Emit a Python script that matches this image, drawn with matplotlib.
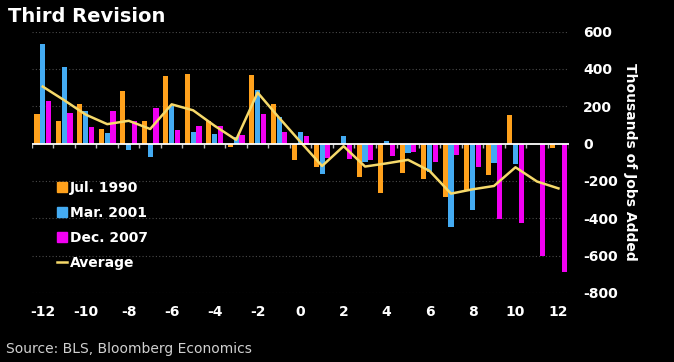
import numpy as np
import matplotlib
matplotlib.use("Agg")
import matplotlib.pyplot as plt
from matplotlib.patches import Patch
from matplotlib.lines import Line2D

plt.rcParams['axes.unicode_minus'] = False

# Months relative to the recession start
months = np.arange(-12, 13)
jul1990 = [160, 121, 210, 77, 283, 121, 360, 372, 121, -21, 368, 212, -86,
           -125, 0, -180, -267, -158, -191, -287, -248, -166, 154, 0, -23]
mar2001 = [532, 410, 172, 58, -37, -72, 200, 63, 52, 35, 289, 140, 61,
           -162, 40, -100, 16, -50, -150, -449, -358, -103, -109, 0, -3]
dec2007 = [230, 163, 89, 174, 121, 188, 70, 93, 93, 47, 160, 63, 41,
           -75, -82, -87, -64, -43, -98, -62, -128, -406, -426, -601, -685]
average = [305, 232, 155, 104, 122, 78, 210, 178, 95, 20, 273, 138, 8,
           -120, -14, -123, -106, -87, -146, -268, -245, -227, -127, -203, -240]

c_jul = '#FFA11C'
c_mar = '#44ABF2'
c_dec = '#F200F2'
c_avg = '#F6D96A'

fig = plt.figure(figsize=(6.74, 3.62), dpi=100, facecolor='black')
ax = fig.add_axes([32 / 674, 1 - 293 / 362, 537.2 / 674, 261.5 / 362])
ax.set_facecolor('black')

w = 0.24
off = 0.27
ax.bar(months - off, jul1990, width=w, color=c_jul, zorder=3)
ax.bar(months, mar2001, width=w, color=c_mar, zorder=3)
ax.bar(months + off, dec2007, width=w, color=c_dec, zorder=3)
ax.plot(months, average, color=c_avg, lw=1.8, zorder=4)

ax.set_xlim(-12.5, 12.5)
ax.set_ylim(-800, 600)

# grid and zero line
for v in range(-800, 601, 200):
    if v != 0:
        ax.axhline(v, color='#4a4a4a', lw=0.8, ls=(0, (1, 2)), zorder=1)
ax.axhline(0, color='white', lw=1.3, zorder=5)
ax.vlines(np.arange(-12.5, 13, 1), -24, 0, color='#bbbbbb', lw=1, zorder=2)

for s in ax.spines.values():
    s.set_visible(False)

ax.set_xticks(range(-12, 13, 2))
ax.tick_params(axis='x', length=0, pad=9, labelcolor='white', labelsize=10)
ax.yaxis.tick_right()
ax.yaxis.set_label_position('right')
ax.set_yticks(range(-800, 601, 200))
ax.tick_params(axis='y', length=0, pad=10, labelcolor='white', labelsize=10)
for lab in ax.get_xticklabels() + ax.get_yticklabels():
    lab.set_fontweight('bold')
ax.set_ylabel('Thousands of Jobs Added', rotation=-90, color='white',
              fontsize=10, fontweight='bold', labelpad=14)

handles = [Patch(color=c_jul), Patch(color=c_mar), Patch(color=c_dec),
           Line2D([0], [0], color=c_avg, lw=1.8)]
labels = ['Jul. 1990', 'Mar. 2001', 'Dec. 2007', 'Average']
leg = ax.legend(handles, labels, loc='upper left',
                bbox_to_anchor=(50 / 674, 1 - 174 / 362),
                bbox_transform=fig.transFigure, frameon=False,
                handlelength=0.75, handleheight=0.75, handletextpad=0.2,
                labelspacing=0.8, borderpad=0,
                prop={'size': 10, 'weight': 'bold'})
for t in leg.get_texts():
    t.set_color('white')

fig.text(8 / 674, 1 - 17 / 362, 'Third Revision', color='white', fontsize=14,
         fontweight='bold', va='center', ha='left')
fig.text(6 / 674, 1 - 349 / 362, 'Source: BLS, Bloomberg Economics',
         color='#d0d0d0', fontsize=10, va='center', ha='left')

fig.savefig('out.png', dpi=100, facecolor='black')
plt.close(fig)
